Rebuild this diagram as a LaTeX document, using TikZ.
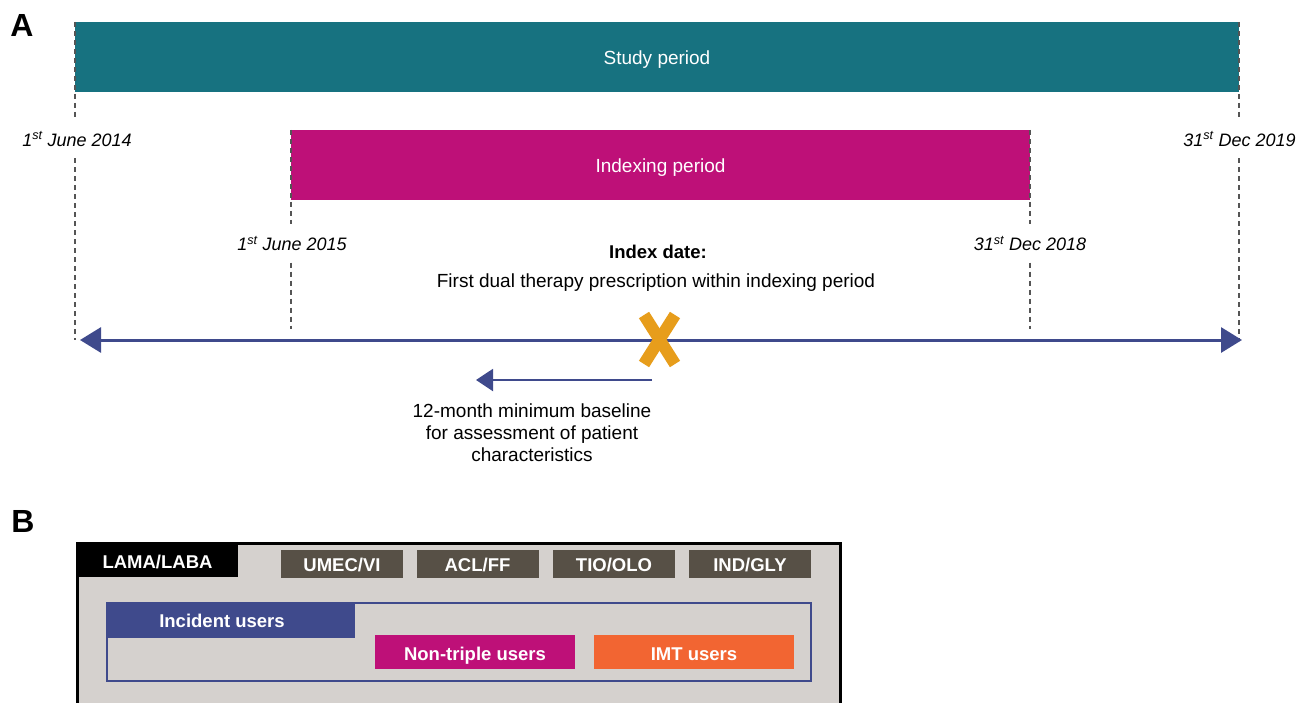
\documentclass[tikz,border=0pt]{standalone}
\usepackage{fontspec}
\setmainfont{Liberation Sans}
\usetikzlibrary{arrows.meta}
\definecolor{studyc}{HTML}{177280}
\definecolor{indexc}{HTML}{BE1078}
\definecolor{axisc}{HTML}{3F4A8C}
\definecolor{crossc}{HTML}{E79D1B}
\definecolor{panelc}{HTML}{D5D1CE}
\definecolor{drugc}{HTML}{575046}
\definecolor{imtc}{HTML}{F26532}
\definecolor{dashc}{HTML}{555555}
\newcommand{\fsn}{\fontsize{19}{23}\selectfont}
\newcommand{\fsb}{\fontsize{18.5}{22}\selectfont\bfseries}
\begin{document}
\begin{tikzpicture}[x=1pt,y=-1pt,
  barbox/.style={fill=#1, draw=none, text=white, inner sep=0pt, font=\fsn, text height=15pt, text depth=0pt},
  datelbl/.style={font=\fontsize{18}{22}\selectfont\itshape, minimum height=38pt, inner sep=0pt},
  dashline/.style={draw=dashc, line width=1.5pt, dash pattern=on 5pt off 4pt},
  axisline/.style={draw=axisc, line width=3pt, {Triangle[length=21pt,width=25pt]}-{Triangle[length=21pt,width=25pt]}},
  basearrow/.style={draw=axisc, line width=2pt, -{Triangle[length=17pt,width=22pt]}},
  crossline/.style={draw=crossc, line width=12pt},
  tabbox/.style={fill=#1, draw=none, text=white, inner sep=0pt, font=\fsb, text height=14pt, text depth=0pt},
  tabtext/.style={text=white, inner sep=0pt, font=\fsb, text height=13.3pt, text depth=0pt},
  panellbl/.style={font=\fontsize{32}{36}\selectfont\bfseries, inner sep=0pt}
]
\useasboundingbox (0,0) rectangle (1299,702);

% ---------- Panel A ----------
\node[panellbl] (labA) at (22,25.5) {A};

\node[barbox=studyc, minimum width=1164pt, minimum height=70pt] (study) at (657,57) {Study period};
\node[barbox=indexc, minimum width=739pt, minimum height=70pt] (index) at (660.5,165) {Indexing period};

\node[datelbl] (d1) at (77,139) {1\textsuperscript{st} June 2014};
\node[datelbl] (d2) at (1239.5,139) {31\textsuperscript{st} Dec 2019};
\node[datelbl] (d3) at (292,243.5) {1\textsuperscript{st} June 2015};
\node[datelbl] (d4) at (1030,243.5) {31\textsuperscript{st} Dec 2018};

\coordinate (axL) at (80,340);
\coordinate (axR) at (1242,340);
\coordinate (dashend) at (0,329);

% dashed guides
\draw[dashline] (study.north west) -- (d1.north -| study.west);
\draw[dashline] (d1.south -| study.west) -- (study.west |- axL);
\draw[dashline] (study.north east) -- (d2.north -| study.east);
\draw[dashline] (d2.south -| study.east) -- (study.east |- axL);
\draw[dashline] (index.north west) -- (d3.north -| index.west);
\draw[dashline] (d3.south -| index.west) -- (index.west |- dashend);
\draw[dashline] (index.north east) -- (d4.north -| index.east);
\draw[dashline] (d4.south -| index.east) -- (index.east |- dashend);

% main axis
\draw[axisline] (axL) -- (axR);

% index date text
\node[font=\fontsize{18.5}{22}\selectfont\bfseries, inner sep=0pt] (idx) at (658,252) {Index date:};
\node[font=\fsn, inner sep=0pt] (idxtxt) at (656,283) {First dual therapy prescription within indexing period};

% cross
\draw[crossline] (644,315) -- (675,364);
\draw[crossline] (675,315) -- (644,364);

% baseline arrow
\coordinate (bs) at (652,380);
\coordinate (be) at (476,380);
\draw[basearrow] (bs) -- (be);
\node[font=\fsn, align=center, inner sep=0pt] (basetxt) at (532,433)
  {12-month minimum baseline\\[-1pt] for assessment of patient\\[-1pt] characteristics};

% ---------- Panel B ----------
\node[panellbl] (labB) at (23,521) {B};

\node[fill=panelc, draw=black, line width=3pt, minimum width=763pt, minimum height=177pt, inner sep=0pt] (panel) at (458.5,631.5) {};

\node[tabbox=black, minimum width=161pt, minimum height=35pt, text height=18pt] (lama) at (157.5,559.5) {LAMA/LABA};
\node[tabbox=drugc, minimum width=122pt, minimum height=28pt] (umec) at (342,564) {UMEC/VI};
\node[tabbox=drugc, minimum width=122pt, minimum height=28pt] (acl) at (477.5,564) {ACL/FF};
\node[tabbox=drugc, minimum width=122pt, minimum height=28pt] (tio) at (614,564) {TIO/OLO};
\node[tabbox=drugc, minimum width=122pt, minimum height=28pt] (ind) at (750,564) {IND/GLY};

\node[draw=axisc, line width=2.5pt, minimum width=704pt, minimum height=78pt, inner sep=0pt] (incbox) at (459,642) {};
\node[tabbox=axisc, minimum width=248pt, minimum height=35pt] (inc) at (231,620.5) {};
\node[tabtext] (inctxt) at (222,620.5) {Incident users};
\node[tabbox=indexc, minimum width=200pt, minimum height=34pt, text height=16pt] (nontriple) at (475,652) {Non-triple users};
\node[tabbox=imtc, minimum width=200pt, minimum height=34pt, text height=16pt] (imt) at (694,652) {IMT users};
\end{tikzpicture}
\end{document}
